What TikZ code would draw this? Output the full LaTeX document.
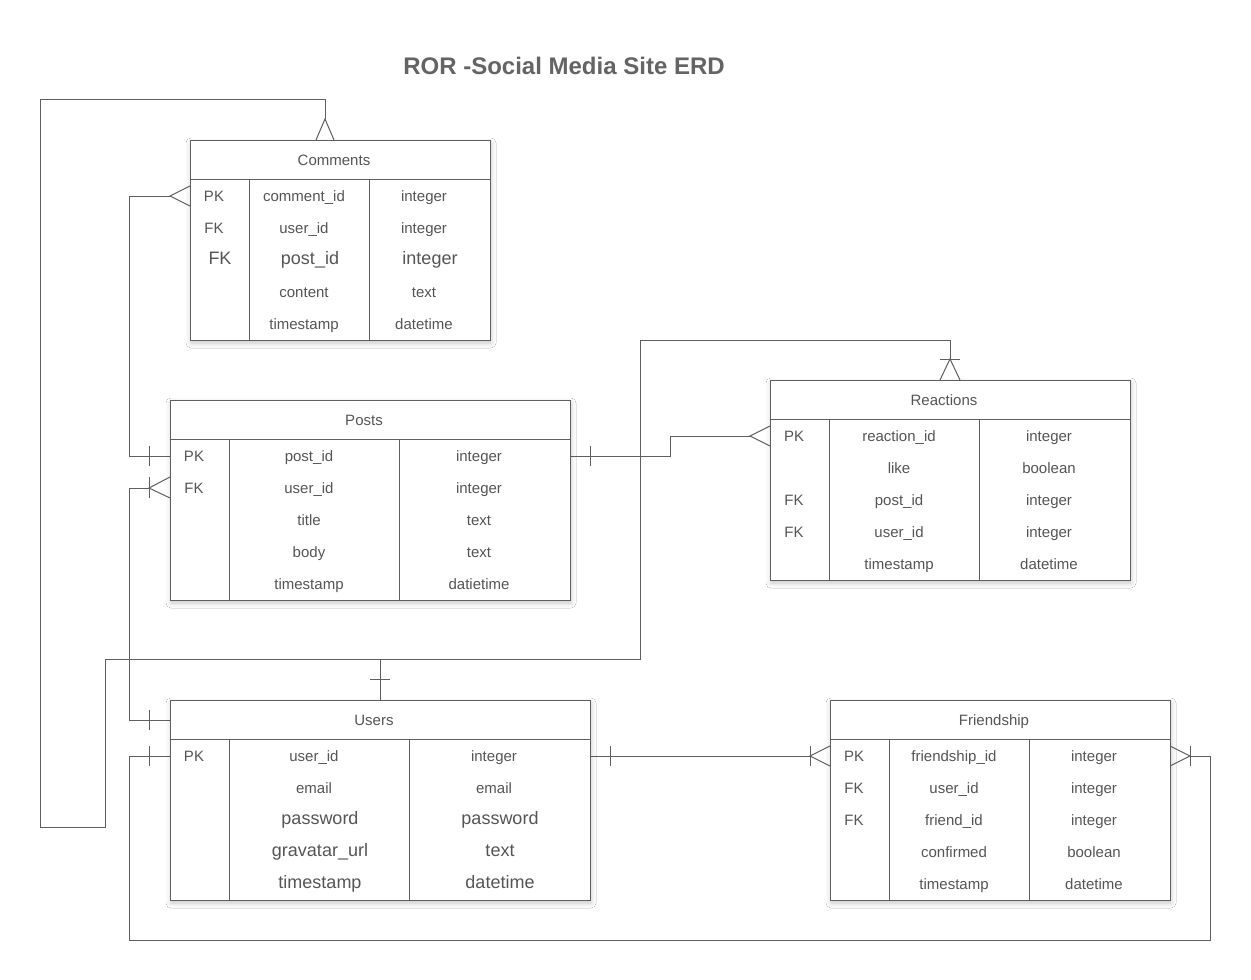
\documentclass[tikz,border=0pt]{standalone}
\usepackage{fontspec}
\setmainfont{Liberation Sans}
\usetikzlibrary{shadows.blur}
\definecolor{lc}{RGB}{95,95,95}
\definecolor{tc}{RGB}{85,85,85}
\definecolor{ttl}{RGB}{100,100,100}
\begin{document}
\begin{tikzpicture}[x=1pt,y=-1pt,
  conn/.style={draw=lc, line width=1pt},
  frame/.style={draw=lc, line width=1pt, fill=white, inner sep=0pt,
    blur shadow={shadow xshift=1pt, shadow yshift=-3pt, shadow blur radius=5pt, shadow opacity=22}},
  cell/.style={text=tc, font=\fontsize{15}{18}\selectfont, inner sep=0pt, text height=10.7pt, text depth=0pt, anchor=center},
  big/.style={font=\fontsize{18}{21}\selectfont, text height=12.9pt},
  divider/.style={draw=lc, line width=1pt}
]
\useasboundingbox (0,0) rectangle (1251,980);
\fill[white] (0,0) rectangle (1251,980);

% ---------- title ----------
\node[text=ttl, font=\bfseries\fontsize{24}{28}\selectfont, inner sep=0pt] (title) at (564,66) {ROR -Social Media Site ERD};

% ---------- connectors (drawn below tables) ----------
\coordinate (jn) at (380,659);
\coordinate (cmTopApex) at (325,119);
\coordinate (cmLeftApex) at (170,196);
\coordinate (poPKl) at (170,456);
\coordinate (poFKapex) at (149,488);
\coordinate (poPKr) at (570,456);
\coordinate (reTopApex) at (950,359);
\coordinate (reLeftApex) at (750,436);
\coordinate (usTop) at (380,700);
\coordinate (usHdrL) at (170,720);
\coordinate (usPKl) at (170,756);
\coordinate (usPKr) at (590,756);
\coordinate (frLeftApex) at (810,756);
\coordinate (frRightApex) at (1190,756);

% Users -> Comments
\draw[conn] (usTop) -- (jn) -- (105,659) -- (105,827) -- (40,827) -- (40,99) -- (325,99) -- (cmTopApex);
% Users -> Reactions
\draw[conn] (jn) -- (640,659) -- (640,340) -- (950,340) -- (reTopApex);
% Comments -> Posts
\draw[conn] (cmLeftApex) -- (129,196) -- (129,456) -- (poPKl);
% Posts FK -> Users
\draw[conn] (poFKapex) -- (129,488) -- (129,720) -- (usHdrL);
% Users PK -> Friendship right
\draw[conn] (usPKl) -- (129,756) -- (129,940) -- (1210,940) -- (1210,756) -- (frRightApex);
% Users PK -> Friendship left
\draw[conn] (usPKr) -- (frLeftApex);
% Posts -> Reactions
\draw[conn] (poPKr) -- (670,456) -- (670,436) -- (reLeftApex);

% ---------- tables ----------
% Comments
\node[frame, minimum width=300pt, minimum height=200pt] (comments) at (340,240) {};
\draw[divider] ([yshift=-40pt]comments.north west) -- ([yshift=-40pt]comments.north east);
\draw[divider] ([xshift=60pt]comments.south west) -- ([xshift=60pt,yshift=-40pt]comments.north west);
\draw[divider] ([xshift=180pt]comments.south west) -- ([xshift=180pt,yshift=-40pt]comments.north west);
\node[cell] (cmT) at (334,160) {Comments};
\node[cell] (cm1k) at (214,196) {PK};
\node[cell] (cm1n) at (304,196) {comment\_id};
\node[cell] (cm1t) at (424,196) {integer};
\node[cell] (cm2k) at (214,228) {FK};
\node[cell] (cm2n) at (304,228) {user\_id};
\node[cell] (cm2t) at (424,228) {integer};
\node[cell,big] (cm3k) at (220,258) {FK};
\node[cell,big] (cm3n) at (310,258) {post\_id};
\node[cell,big] (cm3t) at (430,258) {integer};
\node[cell] (cm4n) at (304,292) {content};
\node[cell] (cm4t) at (424,292) {text};
\node[cell] (cm5n) at (304,324) {timestamp};
\node[cell] (cm5t) at (424,324) {datetime};

% Posts
\node[frame, minimum width=400pt, minimum height=200pt] (posts) at (370,500) {};
\draw[divider] ([yshift=-40pt]posts.north west) -- ([yshift=-40pt]posts.north east);
\draw[divider] ([xshift=60pt]posts.south west) -- ([xshift=60pt,yshift=-40pt]posts.north west);
\draw[divider] ([xshift=230pt]posts.south west) -- ([xshift=230pt,yshift=-40pt]posts.north west);
\node[cell] (poT) at (364,420) {Posts};
\node[cell] (po1k) at (194,456) {PK};
\node[cell] (po1n) at (309,456) {post\_id};
\node[cell] (po1t) at (479,456) {integer};
\node[cell] (po2k) at (194,488) {FK};
\node[cell] (po2n) at (309,488) {user\_id};
\node[cell] (po2t) at (479,488) {integer};
\node[cell] (po3n) at (309,520) {title};
\node[cell] (po3t) at (479,520) {text};
\node[cell] (po4n) at (309,552) {body};
\node[cell] (po4t) at (479,552) {text};
\node[cell] (po5n) at (309,584) {timestamp};
\node[cell] (po5t) at (479,584) {datietime};

% Reactions
\node[frame, minimum width=360pt, minimum height=200pt] (reactions) at (950,480) {};
\draw[divider] ([yshift=-40pt]reactions.north west) -- ([yshift=-40pt]reactions.north east);
\draw[divider] ([xshift=60pt]reactions.south west) -- ([xshift=60pt,yshift=-40pt]reactions.north west);
\draw[divider] ([xshift=210pt]reactions.south west) -- ([xshift=210pt,yshift=-40pt]reactions.north west);
\node[cell] (reT) at (944,400) {Reactions};
\node[cell] (re1k) at (794,436) {PK};
\node[cell] (re1n) at (899,436) {reaction\_id};
\node[cell] (re1t) at (1049,436) {integer};
\node[cell] (re2n) at (899,468) {like};
\node[cell] (re2t) at (1049,468) {boolean};
\node[cell] (re3k) at (794,500) {FK};
\node[cell] (re3n) at (899,500) {post\_id};
\node[cell] (re3t) at (1049,500) {integer};
\node[cell] (re4k) at (794,532) {FK};
\node[cell] (re4n) at (899,532) {user\_id};
\node[cell] (re4t) at (1049,532) {integer};
\node[cell] (re5n) at (899,564) {timestamp};
\node[cell] (re5t) at (1049,564) {datetime};

% Users
\node[frame, minimum width=420pt, minimum height=200pt] (users) at (380,800) {};
\draw[divider] ([yshift=-40pt]users.north west) -- ([yshift=-40pt]users.north east);
\draw[divider] ([xshift=60pt]users.south west) -- ([xshift=60pt,yshift=-40pt]users.north west);
\draw[divider] ([xshift=240pt]users.south west) -- ([xshift=240pt,yshift=-40pt]users.north west);
\node[cell] (usT) at (374,720) {Users};
\node[cell] (us1k) at (194,756) {PK};
\node[cell] (us1n) at (314,756) {user\_id};
\node[cell] (us1t) at (494,756) {integer};
\node[cell] (us2n) at (314,788) {email};
\node[cell] (us2t) at (494,788) {email};
\node[cell,big] (us3n) at (320,818) {password};
\node[cell,big] (us3t) at (500,818) {password};
\node[cell,big] (us4n) at (320,850) {gravatar\_url};
\node[cell,big] (us4t) at (500,850) {text};
\node[cell,big] (us5n) at (320,882) {timestamp};
\node[cell,big] (us5t) at (500,882) {datetime};

% Friendship
\node[frame, minimum width=340pt, minimum height=200pt] (friendship) at (1000,800) {};
\draw[divider] ([yshift=-40pt]friendship.north west) -- ([yshift=-40pt]friendship.north east);
\draw[divider] ([xshift=60pt]friendship.south west) -- ([xshift=60pt,yshift=-40pt]friendship.north west);
\draw[divider] ([xshift=200pt]friendship.south west) -- ([xshift=200pt,yshift=-40pt]friendship.north west);
\node[cell] (frT) at (994,720) {Friendship};
\node[cell] (fr1k) at (854,756) {PK};
\node[cell] (fr1n) at (954,756) {friendship\_id};
\node[cell] (fr1t) at (1094,756) {integer};
\node[cell] (fr2k) at (854,788) {FK};
\node[cell] (fr2n) at (954,788) {user\_id};
\node[cell] (fr2t) at (1094,788) {integer};
\node[cell] (fr3k) at (854,820) {FK};
\node[cell] (fr3n) at (954,820) {friend\_id};
\node[cell] (fr3t) at (1094,820) {integer};
\node[cell] (fr4n) at (954,852) {confirmed};
\node[cell] (fr4t) at (1094,852) {boolean};
\node[cell] (fr5n) at (954,884) {timestamp};
\node[cell] (fr5t) at (1094,884) {datetime};

% ---------- cardinality marks ----------
% Comments top: many
\draw[conn] (316,140) -- (cmTopApex) -- (334,140);
% Comments left: many
\draw[conn] (190,186) -- (cmLeftApex) -- (190,206);
% Posts PK left: one
\draw[conn] (149,446) -- (149,466);
% Posts FK left: one or many
\draw[conn] (170,477) -- (poFKapex) -- (170,498);
\draw[conn] (149,477) -- (149,498);
% Users header left: one
\draw[conn] (149,710) -- (149,730);
% Users PK left: one
\draw[conn] (149,746) -- (149,766);
% Users top: one
\draw[conn] (370,679) -- (390,679);
% Reactions top: one or many
\draw[conn] (940,380) -- (reTopApex) -- (960,380);
\draw[conn] (940,359) -- (960,359);
% Posts PK right: one
\draw[conn] (590,446) -- (590,466);
% Reactions left: many
\draw[conn] (770,426) -- (reLeftApex) -- (770,446);
% Users PK right: one
\draw[conn] (610,746) -- (610,766);
% Friendship left: one or many
\draw[conn] (830,746) -- (frLeftApex) -- (830,766);
\draw[conn] (810,746) -- (810,766);
% Friendship right: one or many
\draw[conn] (1170,746) -- (frRightApex) -- (1170,766);
\draw[conn] (1190,746) -- (1190,766);
\end{tikzpicture}
\end{document}
